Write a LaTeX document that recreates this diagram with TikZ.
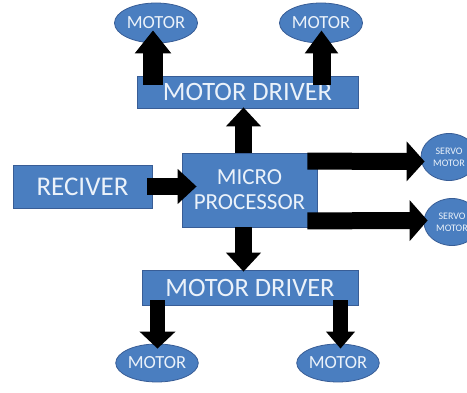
\documentclass[tikz,border=0pt]{standalone}
\usepackage{fontspec}
\setmainfont{Carlito}
\usetikzlibrary{shapes.geometric,arrows.meta,calc}
\definecolor{boxblue}{RGB}{74,126,192}
\definecolor{edgeblue}{RGB}{56,93,150}
\definecolor{txt}{RGB}{235,242,250}
\begin{document}
\begin{tikzpicture}[x=1pt,y=1pt,
  blk/.style={rectangle,fill=boxblue,draw=edgeblue,line width=0.8pt,text=txt,inner sep=0pt,align=center},
  oval/.style={ellipse,fill=boxblue,draw=edgeblue,line width=0.8pt,text=txt,inner sep=0pt,align=center},
  fat/.style={line width=17pt,-{Triangle[width=34pt,length=19pt]}}]
\useasboundingbox[fill=white] (0,0) rectangle (467,-393);
% blocks
\node[blk,minimum width=221pt,minimum height=32pt,font=\fontsize{26.5}{27}\selectfont] (drvT) at (247.5,-92) {MOTOR DRIVER};
\node[blk,minimum width=135pt,minimum height=74pt,font=\fontsize{23}{25}\selectfont] (micro) at (249.5,-190) {MICRO\\PROCESSOR};
\node[blk,minimum width=139pt,minimum height=43pt,font=\fontsize{27}{28}\selectfont] (recv) at (82.5,-186.5) {RECIVER};
\node[blk,minimum width=216pt,minimum height=35pt,font=\fontsize{26.5}{27}\selectfont] (drvB) at (250,-287.5) {MOTOR DRIVER};
% ovals
\node[oval,minimum width=83pt,minimum height=40pt,font=\fontsize{18.5}{19}\selectfont] (motorTL) at (156,-23) {MOTOR};
\node[oval,minimum width=83pt,minimum height=40pt,font=\fontsize{18.5}{19}\selectfont] (motorTR) at (321,-23) {MOTOR};
\node[oval,minimum width=76pt,minimum height=38pt,font=\fontsize{18.5}{19}\selectfont] (motorBL) at (157,-363) {MOTOR};
\node[oval,minimum width=77pt,minimum height=38pt,font=\fontsize{18.5}{19}\selectfont] (motorBR) at (338,-363) {MOTOR};
\node[oval,minimum width=56pt,minimum height=47pt,font=\fontsize{10}{12}\selectfont] (servoT) at (449,-157) {SERVO\\MOTOR};
\node[oval,minimum width=56pt,minimum height=47pt,font=\fontsize{10}{12}\selectfont] (servoB) at (452,-222) {SERVO\\MOTOR};
% arrows
\draw[fat,line width=20pt,-{Triangle[width=35pt,length=23pt]}] ($(drvT.north)+(-94.5,-9)$) -- ($(motorTL.south)+(-3,13)$);
\draw[fat,line width=18pt,-{Triangle[width=32pt,length=23pt]}] ($(drvT.north)+(74,-9)$) -- ($(motorTR.south)+(0.5,13)$);
\draw[fat] ($(micro.north)+(-6,0)$) -- ($(drvT.south)+(-4,1)$);
\draw[fat] ($(micro.south)+(-6,0)$) -- ($(drvB.north)+(-6.5,-2)$);
\draw[fat] ($(recv.east)+(-5,0)$) -- ($(micro.west)+(15,3.5)$);
\draw[fat,-{Triangle[width=39pt,length=18pt]}] ($(micro.north east)+(-10,-8.5)$) -- ($(servoT.west)+(4,-4.5)$);
\draw[fat,-{Triangle[width=40pt,length=18pt]}] ($(micro.south east)+(-10,6.5)$) -- ($(servoB.west)+(4,1.5)$);
\draw[fat,line width=15pt,-{Triangle[width=35pt,length=17pt]}] ($(drvB.south)+(-92.5,5)$) -- ($(motorBL.north)+(0.5,-5)$);
\draw[fat,line width=15pt,-{Triangle[width=28pt,length=17pt]}] ($(drvB.south)+(90.5,5)$) -- ($(motorBR.north)+(2.5,-5)$);
\end{tikzpicture}
\end{document}
